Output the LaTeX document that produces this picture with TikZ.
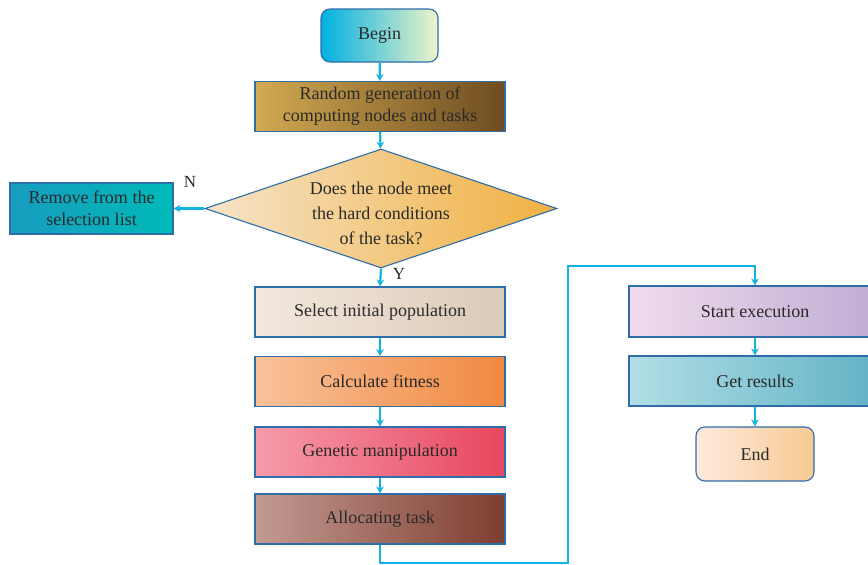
\documentclass[tikz,border=0pt]{standalone}
\usepackage{fontspec}
\setmainfont{Liberation Serif}
\usetikzlibrary{shapes.geometric,arrows.meta}
\definecolor{edgeblue}{HTML}{2F6DA8}
\definecolor{flow}{HTML}{12B2E2}
\definecolor{txt}{HTML}{2A2A2A}
\tikzset{
  box/.style={draw=edgeblue, line width=1.1pt, minimum width=250pt, minimum height=50pt,
    text=txt, align=center, font=\fontsize{18}{22}\selectfont, inner sep=0pt},
  term/.style={box, rounded corners=9pt},
  flowline/.style={draw=flow, line width=2.2pt, -{Stealth[length=7pt,width=7.5pt]}},
  lbl/.style={text=txt, font=\fontsize{17}{20}\selectfont, inner sep=0pt}
}
\begin{document}
\begin{tikzpicture}[x=1pt,y=-1pt]
\useasboundingbox (0,0) rectangle (868,565);
\clip (0,0) rectangle (868,565);
\node[term, minimum width=117pt, minimum height=53pt, left color={rgb,255:red,0;green,176;blue,226}, right color={rgb,255:red,238;green,244;blue,200}] (begin) at (379.5,35.5) {Begin};
\node[box, left color={rgb,255:red,210;green,170;blue,82}, right color={rgb,255:red,110;green,76;blue,32}] (gen) at (380,106.5) {Random generation of\\computing nodes and tasks};
\node[diamond, draw=edgeblue, line width=1.1pt, aspect=2.95, minimum width=352pt, minimum height=119pt, inner sep=0pt,
  left color={rgb,255:red,246;green,228;blue,200}, right color={rgb,255:red,240;green,176;blue,64},
  label={[text=txt, align=center, font=\fontsize{18}{25}\selectfont, inner sep=0pt, yshift=-5pt]center:Does the node meet\\the hard conditions\\of the task?}] (cond) at (381,208.5) {};
\node[box, minimum width=163pt, minimum height=51pt, left color={rgb,255:red,24;green,156;blue,192}, right color={rgb,255:red,0;green,186;blue,184}] (rem) at (91.5,208.5) {Remove from the\\selection list};
\node[box, left color={rgb,255:red,242;green,232;blue,222}, right color={rgb,255:red,220;green,202;blue,184}] (sel) at (380,312) {Select initial population};
\node[box, left color={rgb,255:red,249;green,194;blue,154}, right color={rgb,255:red,241;green,136;blue,64}] (fit) at (380,381.5) {Calculate fitness};
\node[box, left color={rgb,255:red,246;green,156;blue,172}, right color={rgb,255:red,232;green,70;blue,94}] (gm) at (380,452) {Genetic manipulation};
\node[box, left color={rgb,255:red,194;green,154;blue,146}, right color={rgb,255:red,126;green,62;blue,48}] (alloc) at (380,519) {Allocating task};
\node[box, minimum width=252pt, minimum height=51pt, left color={rgb,255:red,240;green,220;blue,236}, right color={rgb,255:red,190;green,172;blue,212}] (start) at (755,311.5) {Start execution};
\node[box, minimum width=252pt, minimum height=50pt, left color={rgb,255:red,178;green,222;blue,230}, right color={rgb,255:red,96;green,178;blue,196}] (res) at (755,381) {Get results};
\node[term, minimum width=118pt, minimum height=54pt, left color={rgb,255:red,253;green,234;blue,222}, right color={rgb,255:red,248;green,202;blue,146}] (end) at (755,454) {End};
\coordinate (c1) at (380,563);
\coordinate (c2) at (568,563);
\coordinate (c3) at (568,266);
\coordinate (c4) at (755,266);
\draw[flowline] (begin) -- (gen);
\draw[flowline] (gen) -- (cond);
\draw[flowline] (cond.west) -- (rem.east);
\draw[flowline] (cond.south) -- (sel.north);
\draw[flowline] (sel) -- (fit);
\draw[flowline] (fit) -- (gm);
\draw[flowline] (gm) -- (alloc);
\draw[flowline] (alloc.south) -- (c1) -- (c2) -- (c3) -- (c4) -- (start.north);
\draw[flowline] (start) -- (res);
\draw[flowline] (res) -- (end);
\node[lbl] (nlab) at (190,182) {N};
\node[lbl] (ylab) at (399,274) {Y};
\end{tikzpicture}
\end{document}
